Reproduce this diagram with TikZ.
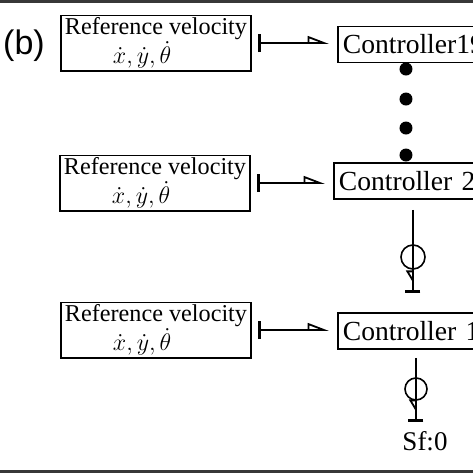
\documentclass[tikz,border=0pt]{standalone}
\usepackage{fontspec}
\setmainfont{Liberation Serif}
\newfontfamily\panelfont{Liberation Sans}
\usetikzlibrary{arrows.meta}

\tikzset{
  refbox/.style={draw, line width=0.9pt, minimum width=95pt, inner xsep=1pt, inner ysep=1pt,
    minimum height=27.5pt, align=left, font=\fontsize{12.1}{12.5}\selectfont},
  ctrlbox/.style={draw, line width=0.9pt, anchor=west, text width=80pt, inner xsep=2.5pt,
    minimum height=18pt, font=\fontsize{13.8}{15}\selectfont},
  bigdot/.style={circle, fill, inner sep=0pt, minimum size=6.5pt},
  ring/.style={circle, draw, line width=0.8pt, inner sep=0pt, minimum size=12pt},
  feed/.style={line width=0.9pt, shorten <=3pt, shorten >=4pt,
    {Bar[width=9pt,line width=1.5pt]}-{Triangle[open,left,length=9.5pt,width=7pt]}},
  effort/.style={line width=0.9pt,
    -{Triangle[open,right,length=6pt,width=7pt,sep=3pt]Bar[width=7.5pt,line width=1.5pt]}}
}

\begin{document}
\begin{tikzpicture}[x=0.5pt, y=-0.5pt]
  \useasboundingbox (0,0) rectangle (473,473);
  \clip (0,0) rectangle (473,473);
  \fill[black!78] (0,0) rectangle (473,3);
  \fill[black!78] (0,470) rectangle (473,473);

  \node[font=\panelfont\fontsize{17}{17}\selectfont] (tag) at (24,46) {(b)};

  % reference inputs
  \node[refbox] (ref1) at (156,43) {Reference velocity\\\hspace*{24pt}$\dot{x}, \dot{y}, \dot{\theta}$};
  \node[refbox] (ref2) at (155,183) {Reference velocity\\\hspace*{24pt}$\dot{x}, \dot{y}, \dot{\theta}$};
  \node[refbox] (ref3) at (156,330) {Reference velocity\\\hspace*{24pt}$\dot{x}, \dot{y}, \dot{\theta}$};

  % controllers
  \node[ctrlbox] (c1) at (337,44.5) {Controller19};
  \node[ctrlbox] (c2) at (333,181) {Controller 2};
  \node[ctrlbox] (c3) at (337,331) {Controller 1};

  \draw[feed] (ref1.east) -- (ref1.east -| c1.west);
  \draw[feed] (ref2.east) -- (ref2.east -| c2.west);
  \draw[feed] (ref3.east) -- (ref3.east -| c3.west);

  \foreach \y [count=\i] in {69,99,128,155}
    \node[bigdot] (dot\i) at (406,\y) {};

  % links between controllers
  \node[ring] (ring2) at (413,257) {};
  \coordinate (bar2) at (413,293);
  \draw[effort, shorten <=5pt] (c2.south -| ring2) -- (bar2);

  \node[ring, minimum size=11pt] (ring3) at (416,389) {};
  \coordinate (bar3) at (416,422);
  \draw[effort, shorten <=4pt] (c3.south -| ring3) -- (bar3);

  \node[font=\fontsize{13.5}{15}\selectfont] (sf) at (425,441) {Sf:0};
\end{tikzpicture}
\end{document}
